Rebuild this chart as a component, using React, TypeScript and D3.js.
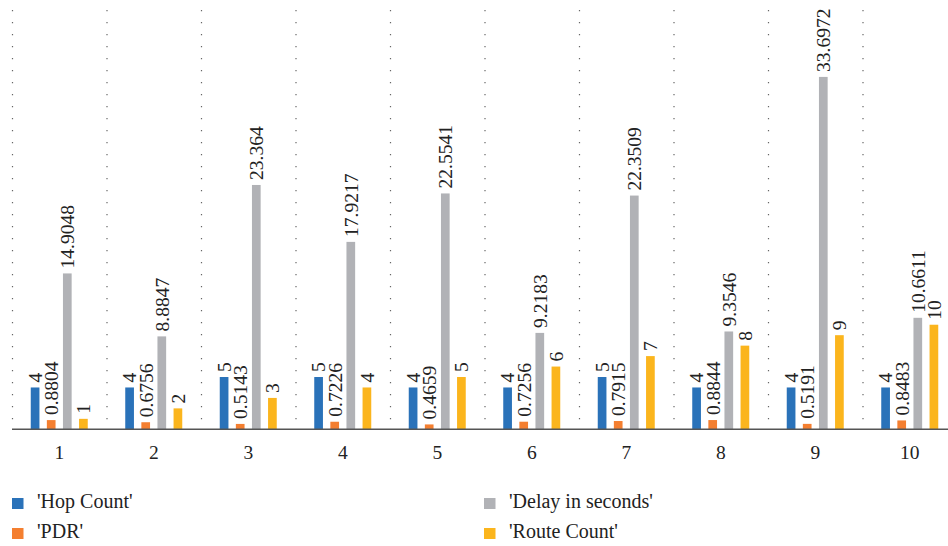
import React, { useRef, useEffect } from "react";
import * as d3 from "d3";

const categories = ["1", "2", "3", "4", "5", "6", "7", "8", "9", "10"];
const seriesNames = ["'Hop Count'", "'PDR'", "'Delay in seconds'", "'Route Count'"];
const hopCount = [4, 4, 5, 5, 4, 4, 5, 4, 4, 4];
const pdr = [0.8804, 0.6756, 0.5143, 0.7226, 0.4659, 0.7256, 0.7915, 0.8844, 0.5191, 0.8483];
const delay = [14.9048, 8.8847, 23.364, 17.9217, 22.5541, 9.2183, 22.3509, 9.3546, 33.6972, 10.6611];
const routeCount = [1, 2, 3, 4, 5, 6, 7, 8, 9, 10];
const colors = ["#2a72b9", "#f47f30", "#b1b2b6", "#fbb51d"];

const App = () => {
  const svgRef = useRef<SVGSVGElement>(null);

  useEffect(() => {
    const svg = d3.select(svgRef.current);
    svg.selectAll("*").remove();

    const width = 948;
    const height = 546;
    const font = "'Liberation Serif', 'Times New Roman', serif";
    const values = [hopCount, pdr, delay, routeCount];

    // category bands run past the right edge (chart is cropped)
    const x0 = d3.scaleBand().domain(categories).range([12, 957]).padding(0);
    const x1 = d3
      .scaleBand()
      .domain(seriesNames)
      .range([x0.bandwidth() / 2 - 28.5, x0.bandwidth() / 2 + 28.5])
      .paddingInner(0.46)
      .paddingOuter(0);
    const y = d3.scaleLinear().domain([0, 40]).range([429.3, 11]);

    // dotted vertical separators
    svg
      .append("g")
      .selectAll("line")
      .data(categories)
      .join("line")
      .attr("x1", (d) => x0(d)! + 0.5)
      .attr("x2", (d) => x0(d)! + 0.5)
      .attr("y1", 10)
      .attr("y2", 420)
      .attr("stroke", "#666")
      .attr("stroke-width", 1.2)
      .attr("stroke-dasharray", "1.2 10.8");

    // bars + labels
    const groups = svg
      .append("g")
      .selectAll("g")
      .data(categories)
      .join("g")
      .attr("transform", (d) => `translate(${x0(d)},0)`);

    seriesNames.forEach((s, si) => {
      groups
        .append("rect")
        .attr("x", x1(s)!)
        .attr("width", x1.bandwidth())
        .attr("y", (d, i) => y(values[si][i]))
        .attr("height", (d, i) => y(0) - y(values[si][i]))
        .attr("fill", colors[si]);

      groups
        .append("text")
        .attr("transform", (d, i) => `translate(${x1(s)! + x1.bandwidth() / 2},${y(values[si][i]) - 5}) rotate(-90)`)
        .attr("dy", "0.35em")
        .attr("text-anchor", "start")
        .style("font-family", font)
        .style("font-size", "19.5px")
        .attr("fill", "#222")
        .text((d, i) => String(values[si][i]));
    });

    // baseline
    svg
      .append("line")
      .attr("x1", 12)
      .attr("x2", width)
      .attr("y1", y(0))
      .attr("y2", y(0))
      .attr("stroke", "#555")
      .attr("stroke-width", 1.5);

    // category labels
    svg
      .append("g")
      .selectAll("text")
      .data(categories)
      .join("text")
      .attr("x", (d) => x0(d)! + x0.bandwidth() / 2)
      .attr("y", 459)
      .attr("text-anchor", "middle")
      .style("font-family", font)
      .style("font-size", "19.5px")
      .attr("fill", "#222")
      .text((d) => d);

    // legend, two columns
    const legendPos = [
      [12, 498],
      [12, 528],
      [484, 498],
      [484, 528],
    ];
    const legend = svg
      .append("g")
      .selectAll("g")
      .data(seriesNames)
      .join("g")
      .attr("transform", (d, i) => `translate(${legendPos[i][0]},${legendPos[i][1]})`);
    legend
      .append("rect")
      .attr("width", 11.5)
      .attr("height", 11)
      .attr("fill", (d, i) => colors[i]);
    legend
      .append("text")
      .attr("x", 25)
      .attr("y", 10)
      .style("font-family", font)
      .style("font-size", "20px")
      .attr("fill", "#222")
      .text((d) => d);

    return () => {
      svg.selectAll("*").remove();
    };
  }, []);

  return (
    <div style={{ position: "absolute", left: 0, top: 0, width: 948, height: 546, background: "#fff" }}>
      <svg ref={svgRef} width={948} height={546} style={{ display: "block" }} />
    </div>
  );
};

export default App;
